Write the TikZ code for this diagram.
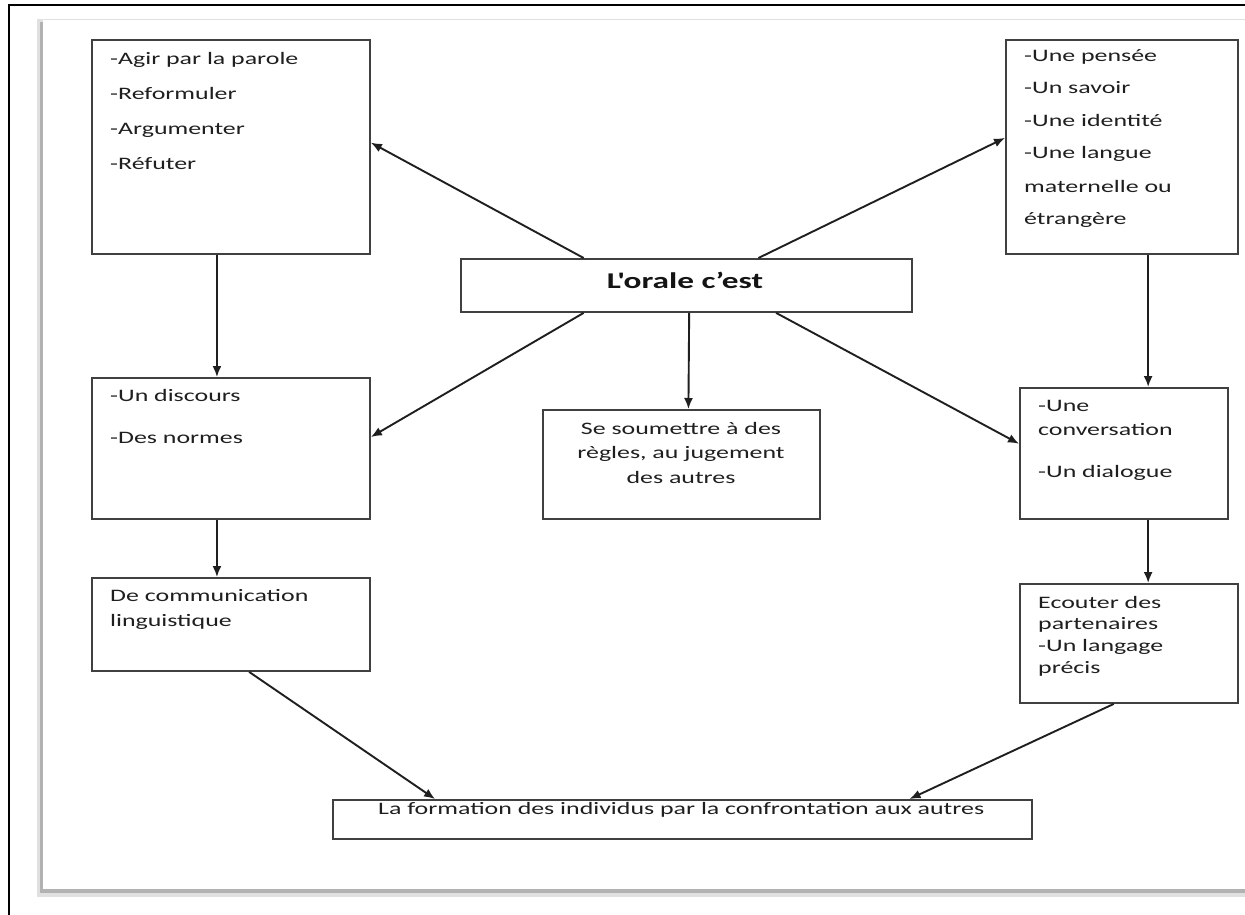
\documentclass[tikz,border=0pt]{standalone}
\usepackage{fontspec}
\setmainfont{Carlito}
\newfontfamily\cfont[FakeStretch=1.48]{Carlito}
\usetikzlibrary{arrows.meta,calc}
\begin{document}
\begin{tikzpicture}[x=1pt,y=-1pt,
  box/.style={draw=black!75, line width=1.9pt, anchor=north west, inner sep=0pt, fill=white},
  txt/.style={anchor=base west, inner sep=0pt, font=\cfont\fontsize{17.5}{21}\selectfont, text=black!88},
  ctxt/.style={txt, anchor=base},
  arr/.style={-{Latex[length=11pt,width=9pt]}, line width=1.9pt, draw=black!88}]
\useasboundingbox (0,0) rectangle (1245,915);
% page with shadow
\fill[black!12] (37,19) rectangle (1260,897);
\fill[black!30] (40,22) rectangle (1260,893);
\fill[white] (43,20) rectangle (1260,889);
\draw[black!12, line width=1pt] (43,20) -- (1260,20);
% outer frame
\draw[line width=2.4pt, black] (9,920) -- (9,5) -- (1260,5);

% boxes
\node[box, minimum width=278, minimum height=214] (A) at (91,39) {};
\node[box, minimum width=232, minimum height=214] (B) at (1005,39) {};
\node[box, minimum width=451, minimum height=53] (C) at (460,258) {};
\node[box, minimum width=277, minimum height=109] (D) at (542,409) {};
\node[box, minimum width=278, minimum height=141] (LM) at (91,377) {};
\node[box, minimum width=278, minimum height=93] (LL) at (91,577) {};
\node[box, minimum width=208, minimum height=131] (RM) at (1019,387) {};
\node[box, minimum width=218, minimum height=119] (RL) at (1019,583) {};
\node[box, minimum width=699, minimum height=39] (BT) at (332,799) {};

% texts
\node[txt] (a1) at (110,65) {-Agir par la parole};
\node[txt] (a2) at (110,100) {-Reformuler};
\node[txt] (a3) at (110,135) {-Argumenter};
\node[txt] (a4) at (110,170) {-Réfuter};

\node[txt] (b1) at (1024,62) {-Une pensée};
\node[txt] (b2) at (1024,94) {-Un savoir};
\node[txt] (b3) at (1024,127) {-Une identité};
\node[txt] (b4) at (1024,159) {-Une langue};
\node[txt] (b5) at (1024,192) {maternelle ou};
\node[txt] (b6) at (1024,224) {étrangère};

\node[ctxt, font=\cfont\bfseries\fontsize{22.5}{26}\selectfont, text=black!92] (c1) at (685,288) {L'orale c’est};

\node[ctxt] (d1) at (681,434) {Se soumettre à des};
\node[ctxt] (d2) at (681,458) {règles, au jugement};
\node[ctxt] (d3) at (681,483) {des autres};

\node[txt] (lm1) at (110,401) {-Un discours};
\node[txt] (lm2) at (110,443) {-Des normes};

\node[txt] (ll1) at (110,601) {De communication};
\node[txt] (ll2) at (110,626) {linguistique};

\node[txt] (rm1) at (1038,411) {-Une};
\node[txt] (rm2) at (1038,435) {conversation};
\node[txt] (rm3) at (1038,477) {-Un dialogue};

\node[txt] (rl1) at (1038,608) {Ecouter des};
\node[txt] (rl2) at (1038,629) {partenaires};
\node[txt] (rl3) at (1038,651) {-Un langage};
\node[txt] (rl4) at (1038,673) {précis};

\node[txt] (bt1) at (378,814) {La formation des individus par la confrontation aux autres};

% connectors
\draw[arr] ($(C.north west)!0.273!(C.north east)$) -- ($(A.north east)!0.48!(A.south east)$);
\draw[arr] ($(C.north west)!0.659!(C.north east)$) -- ($(B.north west)!0.458!(B.south west)$);
\draw[arr] ($(C.south west)!0.273!(C.south east)$) -- ($(LM.north east)!0.42!(LM.south east)$);
\draw[arr] ($(C.south west)!0.506!(C.south east)$) -- ($(D.north west)!0.525!(D.north east)$);
\draw[arr] ($(C.south west)!0.698!(C.south east)$) -- ($(RM.north west)!0.427!(RM.south west)$);
\coordinate (pA) at ($(A.south west)!0.45!(A.south east)$);
\draw[arr] (pA) -- (pA |- LM.north);
\coordinate (pLM) at ($(LM.south west)!0.45!(LM.south east)$);
\draw[arr] (pLM) -- (pLM |- LL.north);
\coordinate (pB) at ($(B.south west)!0.612!(B.south east)$);
\draw[arr] (pB) -- (pB |- RM.north);
\coordinate (pRM) at (pB |- RM.south);
\draw[arr] (pRM) -- (pRM |- RL.north);
\draw[arr] ($(LL.south west)!0.565!(LL.south east)$) -- ($(BT.north west)!0.147!(BT.north east)$);
\draw[arr] ($(RL.south west)!0.431!(RL.south east)$) -- ($(BT.north west)!0.824!(BT.north east)$);
\end{tikzpicture}
\end{document}
